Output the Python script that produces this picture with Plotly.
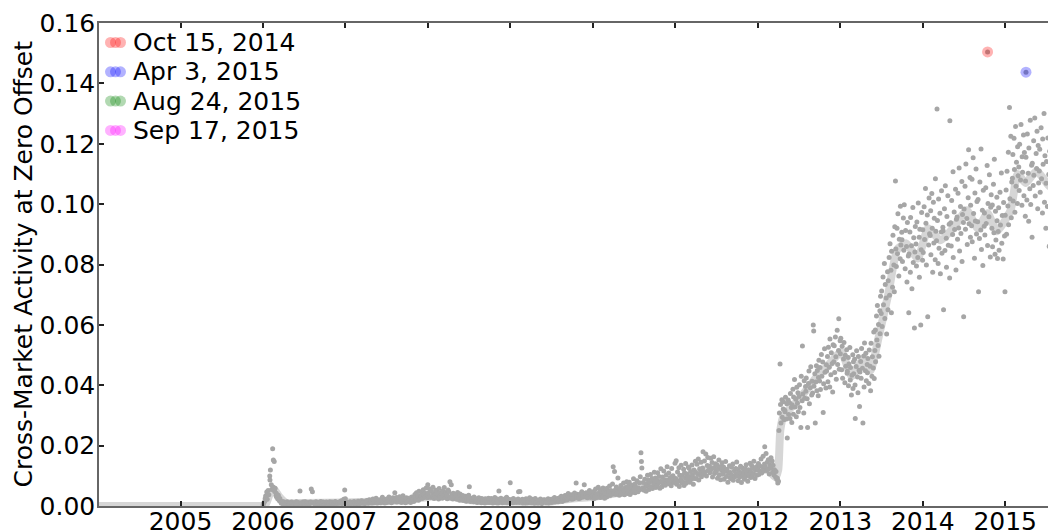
import numpy as np
import pandas as pd
import plotly.graph_objects as go

# ── Daily cross-market activity (units of 1e-3), one list per month
dots_2006 = [
    [0.4, 0.9, 1.6, 2.5, 3.3, 4.6, 2.2, 5.1, 3.7, 9.9],
    [8.6, 11.9, 7.0, 5.5, 19.0, 6.3, 15.2, 14.7, 4.8, 5.9, 3.4],
    [4.2, 2.9, 2.3, 3.6, 1.7, 2.5, 1.2, 0.9, 1.5, 0.7],
    [0.8, 1.3, 0.6, 1.0, 0.5, 1.4, 0.9, 0.7, 1.1, 0.6],
    [1.0, 0.7, 1.3, 1.2, 0.8, 0.6, 1.1, 0.9, 1.4, 0.7],
    [0.9, 1.2, 0.6, 1.0, 5.0, 1.1, 0.8, 0.7, 1.3, 0.9],
    [1.1, 0.8, 1.4, 0.7, 1.0, 0.9, 1.2, 0.6, 1.0, 1.3],
    [1.0, 5.6, 4.7, 1.2, 0.8, 1.1, 0.9, 1.4, 0.7, 1.0],
    [0.9, 1.2, 0.8, 1.1, 1.5, 0.7, 1.0, 1.3, 0.9, 0.6],
    [1.1, 0.8, 1.3, 0.9, 1.2, 0.7, 1.0, 1.4, 0.8, 1.1],
    [1.0, 1.3, 0.7, 1.1, 0.9, 1.5, 0.8, 1.2, 1.0, 0.9],
    [1.2, 0.9, 1.4, 1.0, 1.7, 0.8, 1.3, 2.2, 1.5, 5.3],
]
dots_2007 = [
    [2.4, 1.3, 0.9, 1.2, 0.7, 1.0, 1.4, 0.8, 1.1, 0.9],
    [1.0, 1.3, 0.8, 1.5, 0.9, 1.2, 0.7, 1.1, 1.6, 0.9],
    [1.2, 0.8, 1.4, 1.0, 1.7, 0.9, 1.3, 1.1, 0.8, 1.5],
    [1.3, 1.0, 1.8, 1.2, 0.9, 2.1, 1.4, 1.1, 1.6, 1.0],
    [1.5, 2.3, 1.1, 1.8, 1.3, 2.6, 1.0, 1.6, 2.0, 1.2],
    [1.4, 2.0, 1.1, 1.7, 2.9, 1.3, 1.8, 1.0, 2.2, 1.5],
    [1.9, 1.2, 2.5, 1.6, 3.0, 1.4, 2.1, 1.1, 1.8, 2.7],
    [2.2, 1.5, 4.4, 1.9, 2.8, 1.3, 2.4, 1.7, 3.1, 1.4],
    [1.6, 2.6, 1.2, 2.0, 3.4, 1.5, 2.3, 1.1, 1.9, 2.7],
    [1.8, 1.3, 2.5, 1.7, 2.1, 1.2, 3.0, 1.9, 2.4, 1.5],
    [2.3, 3.8, 2.0, 4.4, 2.8, 3.3, 1.9, 4.9, 2.6, 3.5],
    [3.1, 4.6, 2.5, 5.4, 3.7, 2.8, 4.2, 6.0, 3.3, 2.7],
]
dots_2008 = [
    [7.0, 4.3, 3.1, 5.6, 2.8, 4.9, 3.6, 6.2, 2.5, 4.0],
    [3.4, 5.2, 2.7, 4.6, 3.9, 2.3, 5.8, 3.2, 4.4, 2.9],
    [4.1, 2.6, 5.0, 3.3, 6.1, 2.8, 4.5, 3.7, 2.4, 5.3],
    [3.0, 4.8, 8.0, 2.6, 7.0, 3.9, 2.3, 4.2, 3.5, 2.7],
    [2.9, 3.8, 2.2, 4.5, 2.6, 3.3, 1.9, 4.0, 2.5, 3.1],
    [2.4, 3.5, 1.8, 2.9, 2.1, 3.2, 1.6, 2.7, 2.0, 3.6],
    [2.0, 6.4, 1.5, 2.6, 1.9, 2.3, 1.4, 3.0, 1.7, 2.2],
    [1.6, 2.3, 1.2, 1.9, 2.7, 1.4, 2.0, 1.1, 2.5, 1.5],
    [1.3, 2.1, 1.7, 1.0, 2.4, 1.5, 1.8, 1.2, 2.6, 1.4],
    [1.9, 1.2, 2.5, 1.6, 1.0, 2.2, 1.4, 2.8, 1.7, 1.1],
    [1.5, 2.3, 1.0, 5.0, 1.8, 1.3, 2.6, 1.6, 1.1, 2.0],
    [1.7, 1.2, 2.4, 1.5, 2.9, 1.1, 1.9, 2.2, 1.4, 7.7],
]
dots_2009 = [
    [2.1, 1.4, 1.8, 1.1, 2.5, 1.6, 1.3, 2.0, 1.2, 1.7],
    [1.5, 2.3, 4.7, 1.2, 4.8, 1.9, 1.4, 2.2, 1.0, 1.6],
    [1.3, 1.9, 1.0, 2.4, 1.5, 1.1, 2.0, 1.4, 2.7, 1.2],
    [1.6, 1.1, 2.2, 1.4, 1.8, 0.9, 2.5, 1.3, 1.7, 1.0],
    [1.2, 1.9, 1.0, 1.6, 2.3, 1.3, 0.8, 1.8, 1.4, 2.1],
    [1.4, 2.0, 1.1, 1.7, 1.3, 2.4, 1.0, 1.9, 1.5, 2.2],
    [1.8, 1.2, 2.3, 1.5, 2.8, 1.3, 2.0, 1.6, 2.5, 1.4],
    [2.0, 1.6, 2.7, 1.9, 3.2, 1.5, 2.4, 2.9, 1.8, 3.5],
    [2.5, 3.3, 2.0, 2.8, 4.1, 2.3, 3.0, 2.6, 3.7, 2.2],
    [2.8, 3.6, 2.4, 4.3, 3.1, 7.6, 2.7, 3.9, 3.3, 2.5],
    [3.4, 2.6, 4.0, 3.0, 4.7, 2.9, 3.6, 7.0, 3.2, 4.2],
    [3.0, 4.4, 2.7, 3.8, 3.3, 5.1, 2.8, 4.1, 3.5, 4.6],
]
dots_2010 = [
    [3.5, 2.4, 4.8, 3.1, 5.6, 2.7, 4.0, 3.3, 6.2, 2.9, 4.4],
    [3.8, 5.3, 2.8, 4.5, 3.4, 6.0, 3.1, 4.9, 2.6, 4.1, 5.5],
    [4.3, 3.0, 5.9, 3.7, 4.8, 6.6, 3.5, 5.1, 4.0, 7.3, 3.9],
    [13.0, 4.6, 11.4, 5.2, 3.8, 6.3, 4.2, 9.3, 5.0, 3.6, 5.7],
    [4.9, 6.8, 3.9, 5.5, 4.4, 7.6, 5.1, 3.7, 6.1, 4.7, 8.0],
    [5.3, 4.1, 6.6, 4.8, 7.9, 3.8, 5.8, 4.5, 6.9, 5.0, 9.0],
    [5.6, 7.2, 4.4, 6.4, 5.1, 8.4, 4.7, 6.0, 7.7, 5.4, 9.7],
    [17.6, 14.7, 12.6, 6.0, 7.8, 5.2, 8.9, 6.5, 4.9, 7.3, 10.2],
    [6.9, 8.6, 5.5, 7.8, 10.4, 6.3, 9.1, 5.8, 8.2, 7.0, 11.2],
    [7.4, 9.3, 6.1, 8.5, 6.8, 11.0, 7.7, 9.8, 5.9, 8.1, 12.3],
    [8.0, 6.4, 9.6, 7.2, 11.6, 8.7, 6.9, 10.3, 7.6, 13.0, 8.4],
    [8.6, 10.9, 7.3, 9.4, 6.7, 12.4, 8.2, 10.0, 7.8, 9.1, 14.2],
]
dots_2011 = [
    [9.0, 15.0, 7.2, 11.3, 8.1, 12.7, 6.5, 10.2, 8.8, 13.5, 7.6],
    [10.1, 8.0, 12.2, 6.8, 11.0, 9.3, 14.1, 7.5, 10.6, 8.7, 12.9],
    [9.8, 12.5, 7.9, 11.4, 8.9, 13.6, 10.3, 7.2, 11.9, 9.1, 14.8],
    [11.2, 9.0, 13.8, 10.4, 15.6, 8.6, 12.3, 10.9, 14.5, 9.7, 12.0],
    [12.6, 18.0, 10.5, 14.9, 11.3, 17.2, 9.9, 13.4, 16.1, 11.8, 13.0],
    [13.2, 11.0, 15.8, 12.1, 14.4, 9.6, 16.3, 12.7, 10.8, 14.0, 11.5],
    [11.4, 13.6, 9.2, 12.4, 15.2, 10.3, 13.0, 8.7, 11.9, 14.3, 10.6],
    [10.7, 12.9, 8.9, 11.6, 14.7, 9.8, 12.2, 7.9, 10.9, 13.3, 9.4],
    [11.1, 9.0, 12.8, 10.2, 13.9, 8.5, 11.7, 9.7, 12.4, 10.5, 14.6],
    [10.0, 12.1, 8.4, 11.3, 9.5, 13.2, 10.8, 7.8, 12.6, 9.9, 11.5],
    [10.6, 8.9, 12.3, 9.8, 13.7, 11.0, 8.2, 12.0, 10.3, 14.2, 9.4],
    [11.3, 13.4, 9.6, 12.5, 10.7, 14.8, 9.1, 11.9, 13.0, 10.2, 12.2],
]
dots_2012 = [
    [12.0, 14.1, 10.4, 13.3, 11.5, 15.6, 10.9, 12.8, 16.5, 11.7, 13.9],
    [19.6, 13.0, 17.4, 11.8, 14.6, 12.2, 15.3, 10.6, 13.7, 12.5, 16.0],
    [12.9, 14.9, 11.1, 13.5, 10.3, 12.0, 9.6, 11.4, 8.8, 9.2, 7.6],
    [8.2, 25.0, 30.8, 47.0, 33.6, 27.5, 35.2, 29.4, 32.1, 34.5, 28.6, 31.7],
    [31.2, 36.0, 28.8, 33.9, 22.5, 35.1, 30.3, 34.2, 29.0, 37.3, 32.6, 27.7],
    [33.5, 38.7, 30.4, 36.1, 41.9, 32.8, 35.4, 29.6, 39.3, 34.0, 37.5, 31.2],
    [36.3, 40.2, 32.6, 26.0, 43.0, 34.9, 53.0, 37.1, 30.8, 41.5, 35.7, 39.6],
    [38.0, 42.4, 35.5, 26.0, 40.6, 44.7, 33.9, 39.2, 46.1, 36.8, 41.3, 37.4],
    [60.0, 58.0, 39.7, 43.8, 27.5, 41.1, 46.5, 38.2, 44.9, 36.5, 42.6, 48.3],
    [41.4, 45.9, 38.6, 50.2, 43.0, 47.7, 31.0, 40.5, 52.1, 44.3, 39.1, 46.8],
    [44.7, 49.5, 41.2, 52.6, 46.0, 39.4, 55.3, 43.5, 50.8, 47.2, 37.8, 53.4],
    [47.8, 53.1, 44.2, 56.0, 49.4, 42.0, 58.2, 46.9, 51.5, 62.0, 45.3, 54.7],
]
dots_2013 = [
    [50.4, 55.6, 45.1, 52.9, 42.3, 48.7, 54.2, 40.8, 49.9, 46.3, 51.8, 44.0],
    [44.6, 49.2, 39.8, 47.0, 52.5, 41.7, 45.9, 36.8, 43.3, 50.1, 38.9, 47.8],
    [43.8, 48.6, 40.1, 29.0, 46.2, 51.4, 42.7, 37.5, 49.5, 45.0, 33.0, 44.4],
    [47.9, 42.3, 52.2, 45.6, 27.5, 49.7, 39.4, 54.0, 44.8, 50.6, 41.5, 46.9],
    [44.1, 48.9, 40.6, 51.7, 46.3, 38.2, 53.9, 43.0, 49.4, 45.7, 57.6, 42.2],
    [51.5, 58.3, 47.8, 62.9, 55.0, 66.4, 53.2, 60.1, 49.6, 64.7, 57.1, 69.5],
    [63.8, 71.2, 59.5, 75.9, 66.7, 80.3, 62.1, 73.4, 68.9, 57.0, 77.6, 65.0],
    [74.6, 82.3, 69.8, 86.9, 78.1, 64.0, 84.4, 72.5, 89.7, 79.8, 71.0, 92.5],
    [107.7, 85.1, 79.3, 92.0, 83.6, 96.8, 76.2, 88.4, 81.9, 99.3, 86.5, 90.7],
    [88.2, 81.0, 95.4, 84.7, 99.8, 78.6, 91.3, 86.0, 74.2, 93.9, 82.8, 64.0],
    [83.5, 90.8, 77.4, 95.6, 86.2, 72.0, 98.9, 80.7, 88.9, 59.0, 84.1, 92.6],
    [86.8, 79.5, 94.1, 82.3, 100.4, 89.0, 75.8, 91.7, 60.0, 84.9, 97.2, 81.4],
]
dots_2014 = [
    [91.5, 84.0, 99.1, 88.3, 105.2, 93.7, 79.8, 96.4, 62.7, 86.5, 102.0, 90.2],
    [89.6, 97.8, 83.2, 103.5, 92.0, 77.4, 100.6, 87.1, 95.3, 81.6, 108.4, 91.0],
    [87.9, 131.5, 94.6, 80.3, 101.7, 85.4, 97.0, 76.9, 90.8, 104.4, 83.7, 92.3],
    [91.2, 65.0, 98.5, 84.6, 106.1, 88.7, 79.1, 95.9, 102.8, 86.4, 93.3, 75.5],
    [127.6, 93.8, 86.1, 101.2, 89.9, 110.7, 82.3, 97.4, 91.6, 104.9, 78.2, 95.0],
    [95.7, 88.4, 103.6, 92.1, 112.0, 84.5, 99.2, 90.3, 107.5, 81.0, 96.6, 93.9],
    [62.7, 98.4, 105.9, 91.7, 113.3, 95.2, 86.6, 102.1, 118.0, 93.5, 108.8, 89.0],
    [99.6, 92.8, 108.2, 87.5, 115.4, 96.9, 82.1, 103.7, 94.4, 111.6, 90.1, 100.9],
    [94.2, 101.5, 71.0, 88.6, 107.3, 91.4, 118.3, 85.0, 98.0, 79.7, 104.6, 92.7],
    [97.1, 89.8, 105.4, 93.6, 112.8, 86.3, 100.2, 95.8, 109.7, 82.5, 99.0, 103.1],
    [92.0, 99.7, 85.9, 106.6, 90.5, 114.9, 83.4, 97.6, 88.1, 102.3, 94.5, 82.0],
    [90.9, 98.8, 84.7, 103.9, 93.1, 110.3, 87.0, 96.2, 81.8, 100.5, 89.4, 71.0],
]
dots_2015 = [
    [96.3, 104.7, 90.0, 110.9, 99.4, 117.2, 93.2, 132.0, 101.8, 122.5, 95.5, 107.3],
    [108.6, 116.4, 101.0, 121.8, 111.5, 97.3, 125.7, 105.9, 113.9, 100.2, 119.0, 109.4],
    [112.3, 104.5, 119.8, 108.0, 126.4, 99.6, 115.7, 110.6, 122.9, 102.8, 117.1, 96.0],
    [107.7, 115.5, 101.4, 123.2, 110.2, 94.3, 118.6, 105.1, 127.8, 99.9, 112.9, 89.0],
    [113.5, 106.2, 121.0, 109.6, 128.5, 102.7, 116.8, 111.8, 124.1, 98.5, 119.4, 107.0],
    [111.0, 118.2, 103.9, 125.3, 108.4, 97.1, 121.6, 113.2, 130.0, 100.6, 116.0, 92.0],
    [106.9, 114.1, 99.2, 121.9, 109.8, 86.0, 117.5, 103.6, 127.0, 95.8, 111.7, 90.5],
    [104.0, 111.4, 96.7, 118.9, 88.0, 107.2, 123.1, 100.1, 114.6, 85.0, 109.0, 93.8],
    [102.5, 110.0, 95.0, 116.3, 99.6, 108.1],
]

# ── Smoothed trend (light gray band)
line_dates = [
    "2004-01-01", "2005-12-31", "2006-01-10", "2006-02-01", "2006-02-20", "2006-03-15",
    "2006-04-15", "2006-07-01", "2007-01-01", "2007-06-01", "2007-10-01", "2008-01-01",
    "2008-04-01", "2008-07-01", "2009-01-01", "2009-07-01", "2009-10-01", "2010-01-01",
    "2010-04-01", "2010-07-01", "2010-10-01", "2011-01-01", "2011-04-01", "2011-06-01",
    "2011-08-01", "2011-10-01", "2012-01-01", "2012-02-15", "2012-03-20", "2012-04-01",
    "2012-04-10", "2012-04-25", "2012-06-15", "2012-08-10", "2012-09-10", "2012-11-01",
    "2013-01-05", "2013-02-20", "2013-04-15", "2013-05-15", "2013-06-20", "2013-08-01",
    "2013-09-10", "2013-10-20", "2013-12-10", "2014-01-25", "2014-03-20", "2014-05-15",
    "2014-07-15", "2014-09-01", "2014-10-15", "2014-11-25", "2015-01-25", "2015-02-25",
    "2015-04-01", "2015-05-20", "2015-07-15", "2015-09-15",
]
line_vals = [
    0.0, 0.0, 0.0, 4.0, 5.5, 3.0,
    1.0, 1.0, 1.2, 1.5, 2.0, 3.0,
    3.5, 2.0, 1.5, 1.5, 2.5, 3.0,
    4.0, 5.5, 7.5, 8.5, 10.5, 12.5,
    11.0, 10.5, 11.5, 12.0, 9.5, 12.0,
    25.0, 30.0, 34.0, 39.0, 42.0, 46.0,
    51.0, 43.0, 49.0, 45.0, 56.0, 70.0,
    85.0, 87.0, 82.0, 92.0, 88.0, 92.0,
    98.0, 92.0, 97.0, 91.0, 98.0, 110.0,
    107.0, 111.0, 106.0, 104.0,
]

# ── Highlighted days
highlight_labels = ["Oct 15, 2014", "Apr 3, 2015", "Aug 24, 2015", "Sep 17, 2015"]
highlight_dates = ["2014-10-15", "2015-04-03", "2015-08-24", "2015-09-17"]
highlight_vals = [150.4, 143.7, 123.1, 118.0]
highlight_colors = ["rgba(255,0,0,0.3)", "rgba(0,0,255,0.3)",
                    "rgba(0,128,0,0.3)", "rgba(255,0,255,0.3)"]

year_ticks = list(range(2005, 2016))
y_ticks = [0.00, 0.02, 0.04, 0.06, 0.08, 0.10, 0.12, 0.14, 0.16]

FONT = "DejaVu Sans"
SCALE = 1e-3

# spread each month's readings across its trading days
dot_years = [dots_2006, dots_2007, dots_2008, dots_2009, dots_2010,
             dots_2011, dots_2012, dots_2013, dots_2014, dots_2015]
dot_x, dot_y = [], []
for year, months in zip(range(2006, 2016), dot_years):
    for m, vals in enumerate(months, start=1):
        start = pd.Timestamp(year=year, month=m, day=1)
        days = pd.bdate_range(start, start + pd.offsets.MonthEnd(0))
        idx = np.linspace(0, len(days) - 1, len(vals)).round().astype(int)
        dot_x.extend(days[idx])
        dot_y.extend(v * SCALE for v in vals)

fig = go.Figure()

fig.add_trace(go.Scatter(
    x=pd.to_datetime(line_dates), y=[v * SCALE for v in line_vals],
    mode="lines", line=dict(color="#d6d6d6", width=8, shape="spline", smoothing=0.5),
    hoverinfo="skip", showlegend=False,
))
fig.add_trace(go.Scatter(
    x=dot_x, y=dot_y, mode="markers",
    marker=dict(size=5, color="#a6a6a6"),
    showlegend=False,
))
# highlighted days: gray day-dot plus translucent coloured halo
fig.add_trace(go.Scatter(
    x=pd.to_datetime(highlight_dates), y=[v * SCALE for v in highlight_vals],
    mode="markers", marker=dict(size=5, color="#a6a6a6"),
    cliponaxis=False, showlegend=False,
))
fig.add_trace(go.Scatter(
    x=pd.to_datetime(highlight_dates), y=[v * SCALE for v in highlight_vals],
    mode="markers", marker=dict(size=11, color=highlight_colors),
    cliponaxis=False, showlegend=False,
))

# ── Hand-drawn legend (three overlapping dots per entry, matplotlib style)
shapes, annotations = [], []
for i, (label, col) in enumerate(zip(highlight_labels, highlight_colors)):
    yc = -19.5 - 29.3 * i
    for k in range(3):
        shapes.append(dict(
            type="circle", xref="paper", yref="paper",
            xsizemode="pixel", ysizemode="pixel", xanchor=0, yanchor=1,
            x0=6 + 5 * k, x1=17 + 5 * k, y0=yc - 5.5, y1=yc + 5.5,
            fillcolor=col, line=dict(width=0),
        ))
    annotations.append(dict(
        text=label, xref="paper", yref="paper", x=0, y=1,
        xanchor="left", yanchor="middle", xshift=32, yshift=yc,
        showarrow=False, font=dict(family=FONT, size=25, color="black"),
    ))

annotations.append(dict(
    text="Cross-Market Activity at Zero Offset", textangle=-90,
    xref="paper", yref="paper", x=0, y=0.5, xanchor="center", yanchor="middle",
    xshift=-76, showarrow=False, font=dict(family=FONT, size=25, color="black"),
))

# the page body adds an 8px offset, so the figure is 8px smaller than the window
fig.update_layout(
    width=1048, height=523,
    margin=dict(l=91, r=0, t=15, b=25),
    paper_bgcolor="white", plot_bgcolor="white",
    font=dict(family=FONT, size=25, color="black"),
    shapes=shapes, annotations=annotations,
    showlegend=False,
    xaxis=dict(
        type="date", automargin=False,
        range=["2004-01-06", "2015-08-14"],
        tickvals=[pd.Timestamp(year=y, month=1, day=1) for y in year_ticks],
        ticktext=[str(y) for y in year_ticks],
        ticks="inside", ticklen=5, tickwidth=1.5, tickcolor="#222",
        ticklabelstandoff=-8,
        showline=True, linecolor="#666", linewidth=1.5, mirror="ticks",
        showgrid=False, zeroline=False,
        tickfont=dict(family=FONT, size=25, color="black"),
    ),
    yaxis=dict(
        range=[0, 0.16], automargin=False,
        tickvals=y_ticks, tickformat=".2f",
        ticks="inside", ticklen=5, tickwidth=1.5, tickcolor="#222",
        ticklabelstandoff=-3,
        showline=True, linecolor="#666", linewidth=1.5, mirror=False,
        showgrid=False, zeroline=False,
        tickfont=dict(family=FONT, size=25, color="black"),
    ),
)

fig.write_html("out.html")
